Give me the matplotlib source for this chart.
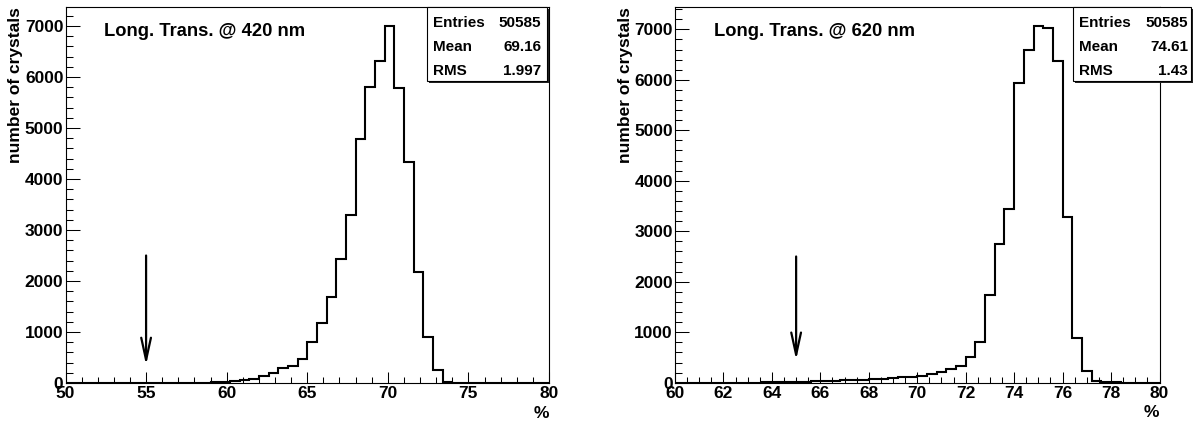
import numpy as np
import matplotlib
matplotlib.use("Agg")
import matplotlib.pyplot as plt
from matplotlib.patches import Rectangle
from matplotlib.ticker import MultipleLocator

plt.rcParams['font.family'] = ['Liberation Sans', 'DejaVu Sans']
plt.rcParams['font.weight'] = 'bold'
plt.rcParams['axes.labelweight'] = 'bold'

# ---------------------------------------------------------------------------
# Longitudinal transmission histograms.
# 420 nm: 50 bins of 0.6 % from 50 to 80
# 620 nm: 50 bins of 0.4 % from 60 to 80
# ---------------------------------------------------------------------------
edges_420 = np.linspace(50, 80, 51)
counts_420 = [
    0, 0, 0, 0, 0, 0, 0, 0, 0, 0,
    0, 1, 3, 5, 9, 15, 25, 38, 58, 85,
    138, 203, 285, 325, 475, 810, 1175, 1695, 2440, 3290,
    4780, 5800, 6320, 7000, 5780, 4330, 2180, 910, 255, 20,
    6, 3, 2, 1, 1, 0, 0, 0, 0, 0,
]

edges_620 = np.linspace(60, 80, 51)
counts_620 = [
    0, 0, 1, 0, 1, 1, 2, 2, 3, 4,
    5, 7, 13, 20, 30, 33, 40, 52, 58, 60,
    66, 78, 92, 105, 118, 136, 165, 210, 265, 330,
    515, 800, 1730, 2750, 3450, 5940, 6600, 7070, 7020, 6370,
    3280, 880, 238, 40, 10, 4, 2, 1, 0, 0,
]

titles = ["Long. Trans. @ 420 nm", "Long. Trans. @ 620 nm"]
stat_names = ["Entries", "Mean", "RMS"]
stats_420 = ["50585", "69.16", "1.997"]
stats_620 = ["50585", "74.61", "1.43"]
cut_values = [55, 65]

W, H = 1197, 421
fig = plt.figure(figsize=(W / 100, H / 100), dpi=100)


def px_rect(x0, y0, x1, y1):
    # pixel box (top-left origin) -> figure fraction [left, bottom, w, h]
    return [x0 / W, 1 - y1 / H, (x1 - x0) / W, (y1 - y0) / H]


panels = [
    dict(edges=edges_420, counts=counts_420, xlim=(50, 80), ymax=7367,
         xmaj=5, xmin=1, title=titles[0], cut=cut_values[0], tip=350,
         stats=stats_420, rect=px_rect(65.5, 7.3, 549, 383),
         box=(426.5, 7.3, 546.5, 81), val_x=541),
    dict(edges=edges_620, counts=counts_620, xlim=(60, 80), ymax=7436,
         xmaj=2, xmin=0.5, title=titles[1], cut=cut_values[1], tip=450,
         stats=stats_620, rect=px_rect(675, 7.3, 1159.5, 382.7),
         box=(1072.5, 7.3, 1191, 81), val_x=1188),
]

for p in panels:
    ax = fig.add_axes(p["rect"])
    ax.stairs(p["counts"], p["edges"], color="black", lw=1.5, baseline=0)
    ax.set_xlim(*p["xlim"])
    ax.set_ylim(0, p["ymax"])

    for s in ax.spines.values():
        s.set_linewidth(0.8)

    ax.xaxis.set_major_locator(MultipleLocator(p["xmaj"]))
    ax.xaxis.set_minor_locator(MultipleLocator(p["xmin"]))
    ax.yaxis.set_major_locator(MultipleLocator(1000))
    ax.yaxis.set_minor_locator(MultipleLocator(200))
    ax.tick_params(axis="both", which="both", direction="in", width=0.75,
                   labelsize=12.5)
    ax.tick_params(axis="y", which="major", length=10, pad=1.5)
    ax.tick_params(axis="y", which="minor", length=5)
    ax.tick_params(axis="x", which="major", length=8, pad=2.5)
    ax.tick_params(axis="x", which="minor", length=4)

    ax.set_ylabel("number of crystals", fontsize=12.5, fontweight="bold",
                  loc="top", labelpad=1)
    ax.set_xlabel("%", fontsize=12.5, fontweight="bold", loc="right",
                  labelpad=3)

    ax.text(0.08, 0.935, p["title"], transform=ax.transAxes, fontsize=13.2,
            va="center", ha="left")

    ax.annotate("", xy=(p["cut"], p["tip"]), xytext=(p["cut"], 2500),
                arrowprops=dict(arrowstyle="->,head_length=1.6,head_width=0.35",
                                lw=1.6, color="black", shrinkA=0, shrinkB=0,
                                mutation_scale=10))

    # stats box with shadow, ROOT style
    x0, y0, x1, y1 = p["box"]
    fig.patches.append(Rectangle(px_rect(x0 + 2, y0 + 2, x1 + 2, y1 + 2)[:2],
                                 (x1 - x0) / W, (y1 - y0) / H,
                                 transform=fig.transFigure, facecolor="#222222",
                                 edgecolor="none", zorder=5))
    fig.patches.append(Rectangle(px_rect(x0, y0, x1, y1)[:2],
                                 (x1 - x0) / W, (y1 - y0) / H,
                                 transform=fig.transFigure, facecolor="white",
                                 edgecolor="black", lw=0.8, zorder=6))
    for i, (name, val) in enumerate(zip(stat_names, p["stats"])):
        yc = 1 - (22.7 + 24 * i) / H
        fig.text((x0 + 6) / W, yc, name, fontsize=11, va="center",
                 ha="left", zorder=7)
        fig.text(p["val_x"] / W, yc, val, fontsize=11, va="center",
                 ha="right", zorder=7)

fig.savefig("out.png", dpi=100)
